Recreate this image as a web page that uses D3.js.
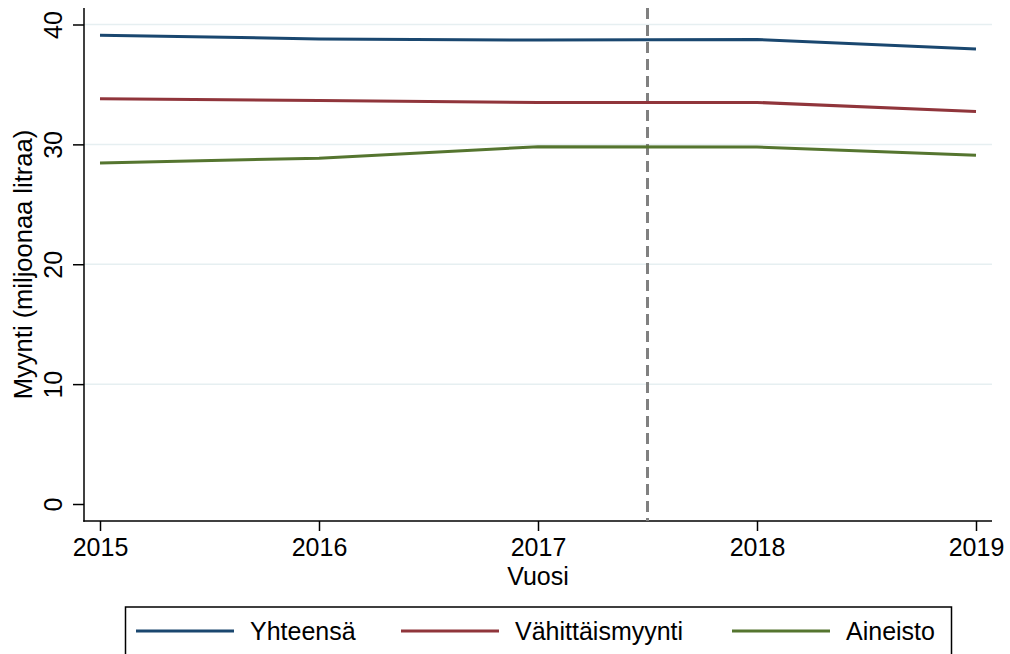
<!DOCTYPE html>
<html><head><meta charset="utf-8">
<script src="https://cdn.jsdelivr.net/npm/d3@7"></script>
<style>body{margin:0;background:#fff}svg{display:block}text{font-family:"Liberation Sans",Arial,sans-serif;fill:#000}</style>
</head><body>
<script>
const years = [2015, 2016, 2017, 2018, 2019];
const yhteensa = [39.1, 38.8, 38.7, 38.75, 37.95];
const vahittais = [33.8, 33.67, 33.5, 33.5, 32.75];
const aineisto = [28.45, 28.85, 29.8, 29.78, 29.1];
const seriesNames = ["Yhteensä", "Vähittäismyynti", "Aineisto"];
const seriesColors = ["#1a476f", "#90353b", "#55752f"];
const yTicks = [0, 10, 20, 30, 40];
const cutYear = 2017.5;

(function(){
const W = 1010, H = 654;
const svg = d3.select("body").append("svg").attr("width", W).attr("height", H);
const x = d3.scaleLinear().domain([2015, 2019]).range([100, 976]);
const y = d3.scaleLinear().domain([0, 40]).range([504, 24.5]);
const pL = 84, pR = 992, pT = 8, pB = 521;

// gridlines
svg.append("g").selectAll("line").data(yTicks.filter(d => d > 0)).join("line")
  .attr("x1", pL).attr("x2", pR).attr("y1", d => y(d)).attr("y2", d => y(d))
  .attr("stroke", "#e6eff1").attr("stroke-width", 1.5);

// axes
const yAxis = d3.axisLeft(y).tickValues(yTicks).tickSize(11).tickPadding(0).tickFormat(d3.format("d"));
const gy = svg.append("g").attr("transform", `translate(${pL},0)`).call(yAxis);
gy.select(".domain").remove();
gy.selectAll(".tick line").attr("stroke", "#000").attr("stroke-width", 1.5);
gy.selectAll(".tick text").attr("font-size", 25)
  .attr("x", 0).attr("y", 0).attr("dy", null)
  .attr("text-anchor", "middle")
  .attr("transform", "translate(-22,0) rotate(-90)");
svg.append("line").attr("x1", pL).attr("x2", pL).attr("y1", pT).attr("y2", pB + 0.75)
  .attr("stroke", "#000").attr("stroke-width", 1.5);

const xAxis = d3.axisBottom(x).tickValues(years).tickSize(10).tickPadding(0).tickFormat(d3.format("d"));
const gx = svg.append("g").attr("transform", `translate(0,${pB})`).call(xAxis);
gx.select(".domain").remove();
gx.selectAll(".tick line").attr("stroke", "#000").attr("stroke-width", 1.5);
gx.selectAll(".tick text").attr("font-size", 25).attr("y", 35).attr("dy", null);
svg.append("line").attr("x1", pL - 0.75).attr("x2", pR).attr("y1", pB).attr("y2", pB)
  .attr("stroke", "#000").attr("stroke-width", 1.5);

// titles
svg.append("text").attr("x", 538).attr("y", 585).attr("text-anchor", "middle")
  .attr("font-size", 25).text("Vuosi");
svg.append("text").attr("transform", `translate(32,${(pT + pB) / 2}) rotate(-90)`)
  .attr("text-anchor", "middle").attr("font-size", 25.5).text("Myynti (miljoonaa litraa)");

// dashed line
svg.append("line").attr("x1", x(cutYear)).attr("x2", x(cutYear)).attr("y1", pT).attr("y2", pB)
  .attr("stroke", "#808080").attr("stroke-width", 3).attr("stroke-dasharray", "11,6");

// series
const data = [yhteensa, vahittais, aineisto];
const line = d3.line().x((d, i) => x(years[i])).y(d => y(d));
svg.append("g").selectAll("path").data(data).join("path")
  .attr("d", line).attr("fill", "none")
  .attr("stroke", (d, i) => seriesColors[i]).attr("stroke-width", 3);

// legend
const lg = svg.append("g");
lg.append("rect").attr("x", 125.5).attr("y", 607).attr("width", 826).attr("height", 60)
  .attr("fill", "#fff").attr("stroke", "#000").attr("stroke-width", 1.5);
const legX = [136, 401, 732];
seriesNames.forEach((n, i) => {
  lg.append("line").attr("x1", legX[i]).attr("x2", legX[i] + 98).attr("y1", 631).attr("y2", 631)
    .attr("stroke", seriesColors[i]).attr("stroke-width", 3);
  lg.append("text").attr("x", legX[i] + 114).attr("y", 640).attr("font-size", 25).text(n);
});
})();
</script>
</body></html>
